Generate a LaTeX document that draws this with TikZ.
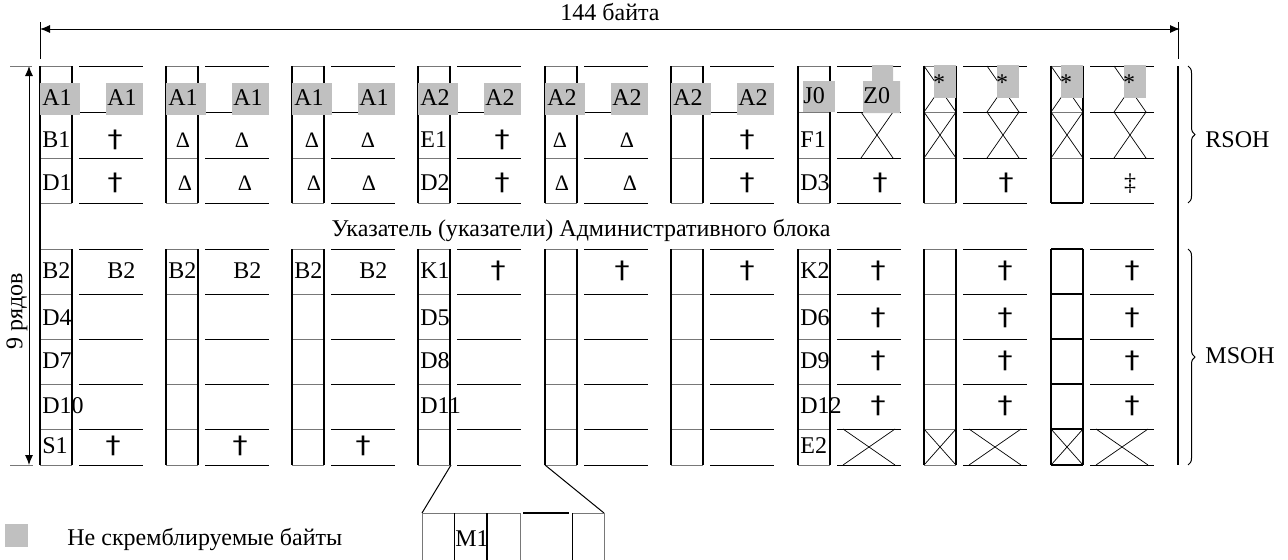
\documentclass[tikz,border=0pt]{standalone}
\usepackage{fontspec}
\setmainfont{Liberation Serif}
\newfontfamily\markfont{DejaVu Sans}
\usepackage{graphicx}
\usepackage{xcolor}
\usetikzlibrary{arrows.meta,decorations.pathreplacing}
\definecolor{nsgray}{RGB}{192,192,192}
\definecolor{rulegray}{RGB}{120,120,120}

\newcommand{\crossbox}[4]{\draw[crossline] (#1,#2) -- (#3,#4) (#1,#4) -- (#3,#2);}
\newcommand{\dg}{\scalebox{1.25}[1]{†}}

\begin{document}
\begin{tikzpicture}[x=0.5pt, y=-0.5pt,
  every node/.style={font=\fontsize{12}{14}\selectfont, inner sep=0pt},
  boxside/.style={line width=0.9pt},
  rowgray/.style={line width=0.5pt, draw=rulegray},
  rowline/.style={line width=0.5pt},
  crossline/.style={line width=0.35pt},
  nsbyte/.style={fill=nsgray},
  lbl/.style={anchor=base west},
  sym/.style={anchor=base},
  dagger/.style={anchor=base, font=\markfont\fontsize{12}{14}\selectfont},
  delta/.style={anchor=base, font=\fontsize{11}{13}\selectfont},
  dimarrow/.style={line width=0.5pt, {Latex[length=5pt,width=4pt]}-{Latex[length=5pt,width=4pt]}}]

  \clip (0,0) rectangle (1288,559);

  % frames of the nine column groups
  \foreach \g in {40,166,292,418,545,671,798,924,1051} {
    \foreach \r in {66,112,158,203,249,294,339,384,429,465} {
      \draw[rowgray] (\g,\r) -- (\g+32,\r);
      \draw[rowline] (\g+39,\r) -- (\g+103,\r);
    }
    \draw[boxside] (\g,66) -- (\g,203) (\g+32,66) -- (\g+32,203);
    \draw[boxside] (\g,249) -- (\g,465) (\g+32,249) -- (\g+32,465);
  }
  \draw[boxside] (40,203) -- (40,249);
  \draw[boxside] (1051,203) -- (1083,203);
  \foreach \r in {249,294,339,384,429,465} \draw[boxside] (1051,\r) -- (1083,\r);
  \draw[boxside] (1178,66) -- (1178,465);

  % crossed cells
  \foreach \g in {924,1051} {
    \crossbox{\g}{66}{\g+32}{112}
    \crossbox{\g}{112}{\g+32}{158}
    \crossbox{\g+63}{66}{\g+95}{112}
    \crossbox{\g+63}{112}{\g+95}{158}
    \crossbox{\g}{429}{\g+32}{465}
    \crossbox{\g+45}{429}{\g+97}{465}
  }
  \crossbox{861}{112}{893}{158}
  \crossbox{843}{429}{895}{465}

  % non scrambled bytes
  \foreach \g in {40,166,292,418,545,671} {
    \fill[nsbyte] (\g,83) rectangle (\g+40,115);
    \fill[nsbyte] (\g+66,83) rectangle (\g+103,115);
  }
  \fill[nsbyte] (803,81) rectangle (835,112);
  \fill[nsbyte] (863,81) rectangle (900,113) (872,65) rectangle (893,81);
  \foreach \g in {924,1051} {
    \fill[nsbyte] (\g+10,65) rectangle (\g+32,98);
    \fill[nsbyte] (\g+73,65) rectangle (\g+95,98);
    \node[sym] (sn\g) at (\g+15,90) {*};
    \node[sym] (sw\g) at (\g+78,90) {*};
  }

  % byte names
  \foreach \x/\y/\t in {42/105/A1, 42/147/B1, 42/190/D1, 168/105/A1, 294/105/A1,
      420/105/A2, 420/147/E1, 420/190/D2, 547/105/A2, 673/105/A2,
      803/103/J0, 800/147/F1, 800/190/D3,
      107/105/A1, 233/105/A1, 359/105/A1, 485/105/A2, 612/105/A2, 738/105/A2, 863/103/Z0,
      42/278/B2, 42/325/D4, 42/368/D7, 42/413/D10, 42/453/S1, 168/278/B2, 294/278/B2,
      420/278/K1, 420/325/D5, 420/368/D8, 420/413/D11,
      800/278/K2, 800/325/D6, 800/368/D9, 800/413/D12, 800/453/E2,
      107/278/B2, 233/278/B2, 359/278/B2}
    \node[lbl] (c\x-\y) at (\x,\y) {\t};
  \foreach \x/\y in {115/147, 502/147, 747/147, 115/190, 502/190, 747/190, 880/190, 1006/190,
      498/278, 622/278, 747/278, 878/278, 1005/278, 1132/278,
      878/325, 1005/325, 1132/325, 878/368, 1005/368, 1132/368, 878/413, 1005/413, 1132/413,
      113/453, 240/453, 363/453}
    \node[dagger] (d\x-\y) at (\x,\y) {\dg};
  \node[sym] (ddag) at (1130,190) {‡};
  \foreach \x/\y in {183/147, 185/190, 312/147, 314/190, 560/147, 562/190,
      242/147, 245/190, 368/147, 369/190, 627/147, 630/190}
    \node[delta] (v\x-\y) at (\x,\y) {Δ};

  % dimensions
  \coordinate (wL) at (40,29);
  \coordinate (wR) at (1180,29);
  \draw[dimarrow] (wL) -- (wR);
  \draw[rowline] (40,22) -- (40,59) (1178,22) -- (1178,59);
  \node (width) at (610,12) {144 байта};
  \coordinate (hT) at (29,66);
  \coordinate (hB) at (29,465);
  \draw[dimarrow] (hT) -- (hB);
  \draw[rowgray] (10,66) -- (32,66) (10,465) -- (33,465);
  \node[rotate=90] (rows) at (17,311) {9 рядов};

  \node[anchor=base] (pointer) at (581,236) {Указатель (указатели) Административного блока};

  % overhead parts
  \draw[rowline, decorate, decoration={brace, amplitude=3.5pt}] (1188,66) -- (1188,203);
  \draw[rowline, decorate, decoration={brace, amplitude=3.5pt}] (1188,249) -- (1188,465);
  \node[lbl] (rsoh) at (1205,147) {RSOH};
  \node[lbl] (msoh) at (1205,363) {MSOH};

  % enlarged K1 column
  \coordinate (k1) at (451,465);
  \coordinate (k2) at (545,465);
  \coordinate (zl) at (422,513);
  \coordinate (zr) at (604,513);
  \draw[rowline] (k1) -- (zl) (k2) -- (zr);
  \draw[rowgray] (422,513) -- (520,513) (572,513) -- (604,513);
  \draw[boxside] (523,513) -- (569,513);
  \draw[rowgray] (422,513) -- (422,570) (520,513) -- (520,570) (604,513) -- (604,570);
  \draw[rowline] (454,513) -- (454,570) (572,513) -- (572,570);
  \draw[boxside] (487,513) -- (487,570);
  \node[lbl] (m1) at (455,546) {M1};

  % legend
  \fill[nsbyte] (5,524) rectangle (28,547);
  \node[lbl] (legend) at (67,545) {Не скремблируемые байты};
\end{tikzpicture}
\end{document}
